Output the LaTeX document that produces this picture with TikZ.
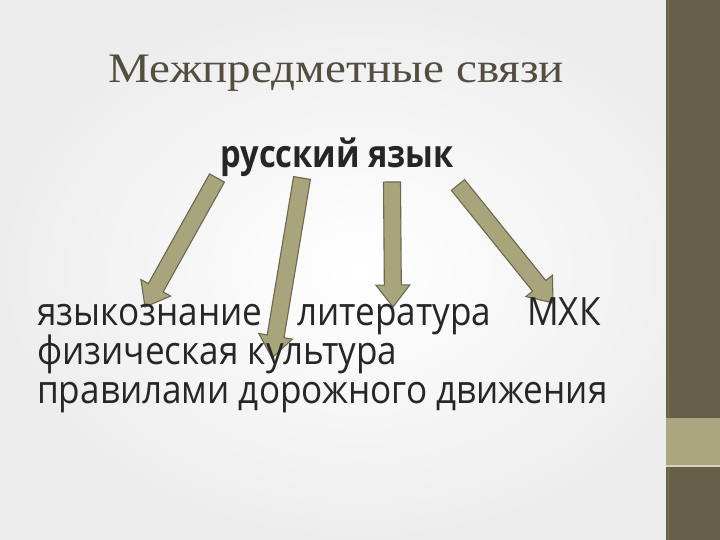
\documentclass[tikz,border=0pt]{standalone}
\usepackage{fontspec}
\setmainfont{Open Sans}
\newfontfamily\bodyfont[FakeStretch=0.9]{Open Sans}
\newfontfamily\srcfont[FakeStretch=0.86]{Open Sans}
\newfontfamily\titlefont[FakeStretch=1.12]{Liberation Serif}
\usetikzlibrary{calc}
\definecolor{stripe}{RGB}{101,94,72}
\definecolor{stripeline}{RGB}{112,104,70}
\definecolor{tanblock}{RGB}{172,166,128}
\definecolor{arrowfill}{RGB}{168,164,124}
\definecolor{arrowdraw}{RGB}{108,104,80}
\definecolor{titlecol}{RGB}{84,78,64}
\definecolor{bodycol}{RGB}{38,38,38}
\tikzset{
  bodytext/.style={anchor=base west, inner sep=0pt, text=bodycol, font=\bodyfont\fontsize{39}{43}\selectfont},
  blockarrow/.style={fill=arrowfill, draw=arrowdraw, line width=1.1pt, line join=miter}
}
\newcommand{\blockarr}[2]{%
  \path let \p1=(#1), \p2=(#2),
    \n1={atan2(\y2-\y1,\x2-\x1)},
    \n2={veclen(\x2-\x1,\y2-\y1)} in
    [blockarrow, shift={(\p1)}, rotate=\n1]
    (0pt,-8.5pt) -- (\n2-22pt,-8.5pt) -- (\n2-22pt,-17pt) -- (\n2,0pt)
    -- (\n2-22pt,17pt) -- (\n2-22pt,8.5pt) -- (0pt,8.5pt) -- cycle;}
\begin{document}
\begin{tikzpicture}[x=1pt,y=-1pt]
  \useasboundingbox (0,0) rectangle (720,540);
  % background
  \shade[inner color=white, outer color=black!7] (0,0) rectangle (720,540);
  % right stripe
  \fill[stripe] (666,0) rectangle (720,540);
  \fill[stripeline] (667,0) rectangle (670,540);
  \fill[tanblock] (666,418) rectangle (720,465);
  \fill[white!50!tanblock] (666,465) rectangle (720,467);
  % arrow ends
  \coordinate (t1) at (217,178);
  \coordinate (h1) at (145,307);
  \coordinate (t2) at (302,178);
  \coordinate (h2) at (272,358);
  \coordinate (t3) at (392,182);
  \coordinate (h3) at (393,307);
  \coordinate (t4) at (458,185);
  \coordinate (h4) at (553,303);
  \blockarr{t1}{h1}
  \blockarr{t2}{h2}
  \blockarr{t3}{h3}
  \blockarr{t4}{h4}
  % texts
  \node[anchor=base, inner sep=0pt, text=titlecol, font=\titlefont\fontsize{42}{46}\selectfont] (title) at (336,83) {Межпредметные связи};
  \node[anchor=base, inner sep=0pt, text=bodycol, font=\srcfont\bfseries\fontsize{38}{42}\selectfont] (src) at (337,168) {русский язык};
  \node[bodytext] (w1) at (37,325) {языкознание};
  \node[bodytext] (w2) at (297,325) {литература};
  \node[bodytext] (w3) at (527,325) {МХК};
  \node[bodytext] (l2) at (37,364) {физическая культура};
  \node[bodytext] (l3) at (37,403) {правилами дорожного движения};
\end{tikzpicture}
\end{document}
